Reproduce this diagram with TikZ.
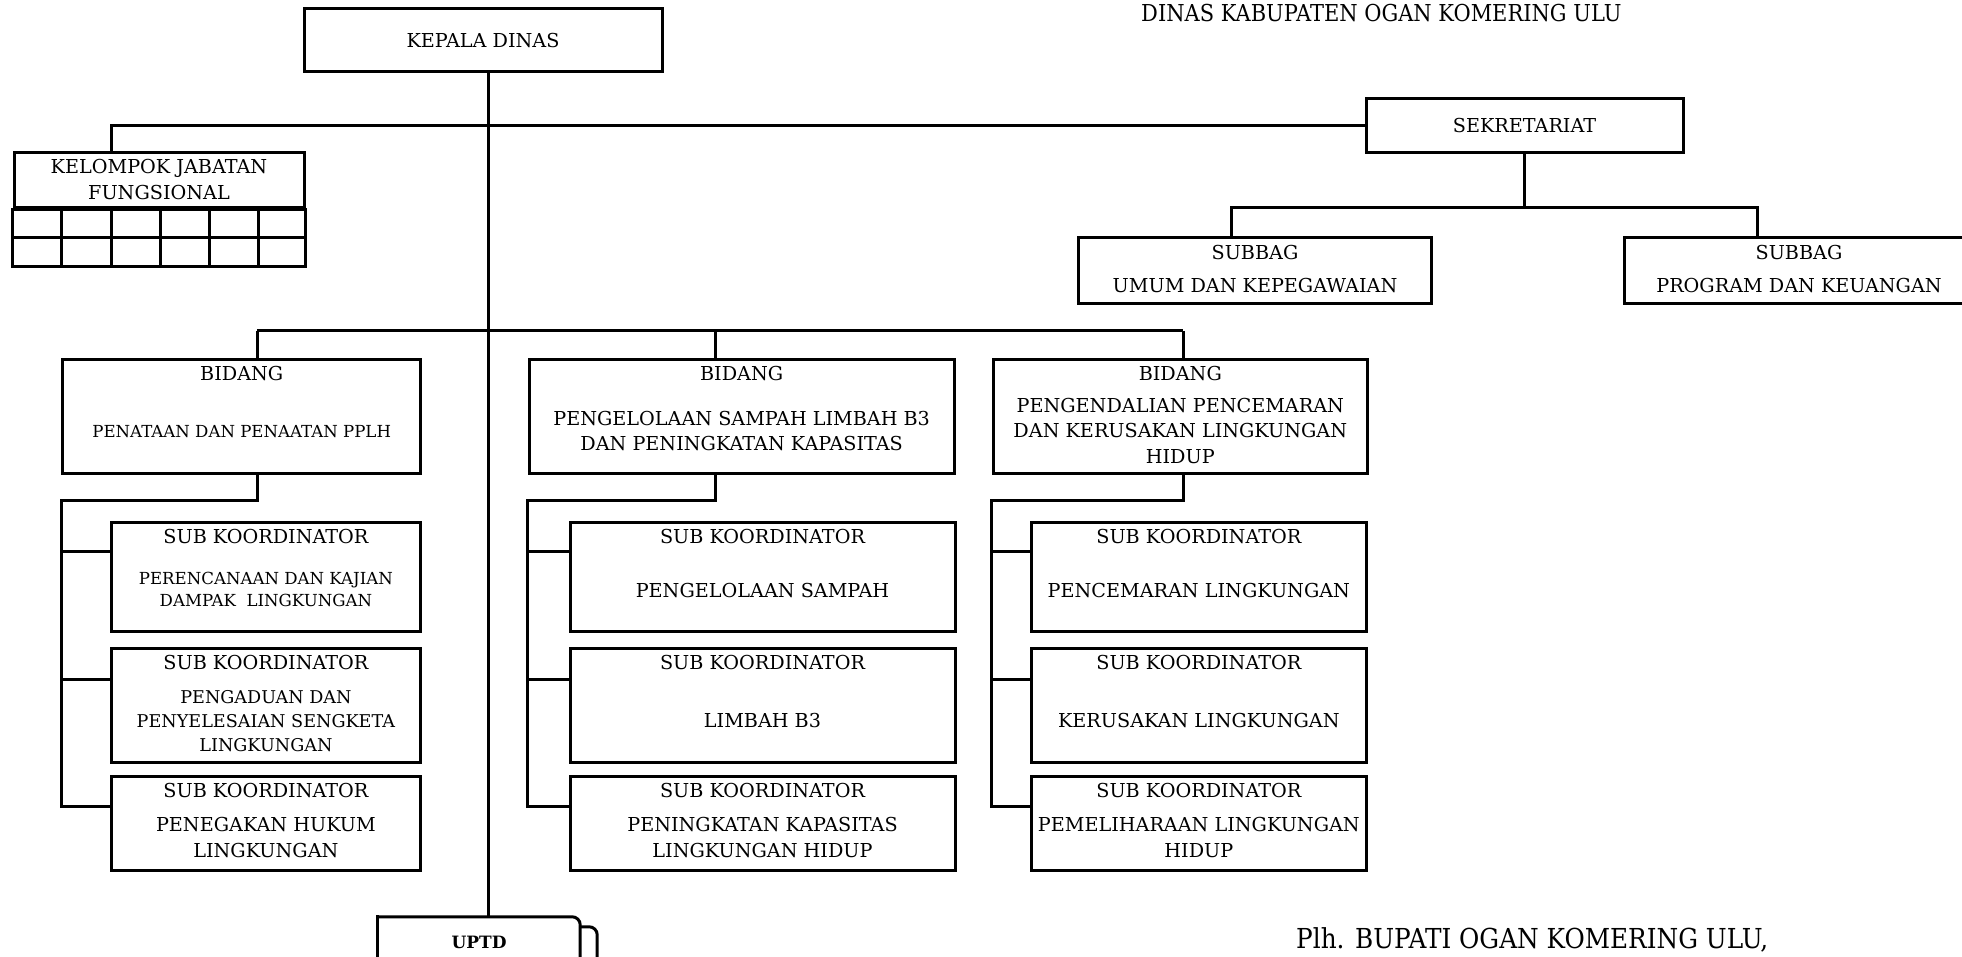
\documentclass[tikz,border=0pt]{standalone}
\usepackage{fontspec}
\setmainfont{DejaVu Serif}
\newfontfamily\headfont{DejaVu Serif}[FakeStretch=0.9]
\usetikzlibrary{calc}

\begin{document}
\begin{tikzpicture}[x=1pt,y=-1pt,
  box/.style={draw, line width=3pt, inner sep=0pt},
  link/.style={line width=3pt},
  txt/.style={inner sep=0pt, align=center, font=\fontsize{19.2}{#1}\selectfont},
  txt/.default=25,
  sml/.style={inner sep=0pt, align=center, font=\fontsize{16.6}{#1}\selectfont},
  sml/.default=22.6,
  mid/.style={inner sep=0pt, align=center, font=\fontsize{17.6}{#1}\selectfont},
  mid/.default=24,
  head/.style={inner sep=0pt, anchor=base west, font=\headfont\fontsize{#1}{26}\selectfont},
  head/.default=23.3]
\useasboundingbox (0,0) rectangle (1962,957);
\clip (0,0) rectangle (1962,957);

% ---------- top level ----------
\node[box, minimum width=358pt, minimum height=63pt] (kd) at (483,40.5) {};
\node[txt] (kdt) at (kd.center) {KEPALA DINAS};

\node[head] (hdr) at (1141,21.5) {DINAS KABUPATEN OGAN KOMERING ULU};

% functional group with its grid
\node[box, minimum width=290pt, minimum height=55pt] (kjf) at (159,180.5) {};
\node[txt=26] (kjft) at (159,179.5) {KELOMPOK JABATAN\\FUNGSIONAL};
\draw[link] (kjf.south west) rectangle (kjf.east |- 0,267);
\draw[link] (kjf.west |- 0,238) -- (kjf.east |- 0,238);
\foreach \x in {61,111,160,209,258} \draw[link] (\x,208) -- (\x,267);

% secretariat
\node[box, minimum width=317pt, minimum height=54pt] (sek) at (1524.5,126) {};
\node[txt] (sekt) at (sek.center) {SEKRETARIAT};

\node[box, minimum width=353pt, minimum height=66pt] (sbu) at (1255,271) {};
\node[txt] (sbut1) at (1255,252.8) {SUBBAG};
\node[txt] (sbut2) at (1255,285.3) {UMUM DAN KEPEGAWAIAN};

\node[box, minimum width=350pt, minimum height=66pt] (sbp) at (1799,271) {};
\node[txt] (sbpt1) at (1799,252.8) {SUBBAG};
\node[txt] (sbpt2) at (1799,285.3) {PROGRAM DAN KEUANGAN};

% ---------- divisions ----------
\node[box, minimum width=358pt, minimum height=114pt] (bid1) at (241.7,416.3) {};
\node[txt] (bid1a) at (241.7,374) {BIDANG};
\node[sml] (bid1b) at (241.7,431.7) {PENATAAN DAN PENAATAN PPLH};

\node[box, minimum width=424.7pt, minimum height=114pt] (bid2) at (741.65,416.3) {};
\node[txt] (bid2a) at (741.65,374) {BIDANG};
\node[txt=25] (bid2b) at (741.65,431.5) {PENGELOLAAN SAMPAH LIMBAH B3\\DAN PENINGKATAN KAPASITAS};

\node[box, minimum width=374pt, minimum height=114pt] (bid3) at (1180.3,416.3) {};
\node[txt] (bid3a) at (1180.3,374) {BIDANG};
\node[txt=25.5] (bid3b) at (1180.3,431) {PENGENDALIAN PENCEMARAN\\DAN KERUSAKAN LINGKUNGAN\\HIDUP};

% ---------- sub coordinators ----------
% column 1
\node[box, minimum width=309.7pt, minimum height=108.7pt] (s11) at (265.9,576.65) {};
\node[txt] (s11a) at (265.9,536.6) {SUB KOORDINATOR};
\node[sml] (s11b) at (265.9,589.3) {PERENCANAAN DAN KAJIAN\\DAMPAK\ \ LINGKUNGAN};

\node[box, minimum width=309.7pt, minimum height=113.3pt] (s12) at (265.9,705.35) {};
\node[txt] (s12a) at (265.9,663) {SUB KOORDINATOR};
\node[mid] (s12b) at (265.9,720.8) {PENGADUAN DAN\\PENYELESAIAN SENGKETA\\LINGKUNGAN};

\node[box, minimum width=309.7pt, minimum height=94pt] (s13) at (265.9,823.7) {};
\node[txt] (s13a) at (265.9,791) {SUB KOORDINATOR};
\node[txt=26] (s13b) at (265.9,838) {PENEGAKAN HUKUM\\LINGKUNGAN};

% column 2
\node[box, minimum width=385pt, minimum height=108.7pt] (s21) at (762.5,576.65) {};
\node[txt] (s21a) at (762.5,536.6) {SUB KOORDINATOR};
\node[txt] (s21b) at (762.5,590.6) {PENGELOLAAN SAMPAH};

\node[box, minimum width=385pt, minimum height=113.3pt] (s22) at (762.5,705.35) {};
\node[txt] (s22a) at (762.5,663) {SUB KOORDINATOR};
\node[txt] (s22b) at (762.5,720.6) {LIMBAH B3};

\node[box, minimum width=385pt, minimum height=94pt] (s23) at (762.5,823.7) {};
\node[txt] (s23a) at (762.5,791) {SUB KOORDINATOR};
\node[txt=26] (s23b) at (762.5,838) {PENINGKATAN KAPASITAS\\LINGKUNGAN HIDUP};

% column 3
\node[box, minimum width=335.7pt, minimum height=108.7pt] (s31) at (1198.85,576.65) {};
\node[txt] (s31a) at (1198.85,536.6) {SUB KOORDINATOR};
\node[txt] (s31b) at (1198.85,590.6) {PENCEMARAN LINGKUNGAN};

\node[box, minimum width=335.7pt, minimum height=113.3pt] (s32) at (1198.85,705.35) {};
\node[txt] (s32a) at (1198.85,663) {SUB KOORDINATOR};
\node[txt] (s32b) at (1198.85,720.6) {KERUSAKAN LINGKUNGAN};

\node[box, minimum width=335.7pt, minimum height=94pt] (s33) at (1198.85,823.7) {};
\node[txt] (s33a) at (1198.85,791) {SUB KOORDINATOR};
\node[txt=26] (s33b) at (1198.85,838) {PEMELIHARAAN LINGKUNGAN\\HIDUP};

% ---------- technical unit ----------
\node[inner sep=0pt, minimum width=202pt, minimum height=80pt] (uptd) at (479,957) {};
\draw[link, rounded corners=8pt] (uptd.north west) -- (uptd.north east) -- (uptd.south east);
\draw[link, line cap=rect] (uptd.north west) -- (uptd.south west);
\draw[link, rounded corners=8pt] ([yshift=-10pt]uptd.north east) -- ([xshift=17pt,yshift=-10pt]uptd.north east) -- ([xshift=17pt]uptd.south east);
\node[inner sep=0pt, font=\bfseries\fontsize{17}{20}\selectfont] (uptdt) at (479,942) {UPTD};

\node[head=27.5] (sig) at (1296,948) {Plh. BUPATI OGAN KOMERING ULU,};

% ---------- connectors ----------
\draw[link] ([xshift=5pt]kd.south) -- ([xshift=5pt]kd.south |- uptd.north);
\draw[link] ([xshift=-48pt]kjf.north) |- (sek.west);

\coordinate (sl) at (1231,208);
\coordinate (sr) at (1757,208);
\draw[link] (sek.south) -- (sek.south |- sl);
\draw[link] (sl |- sbu.north) -- (sl) -- (sr) -- (sr |- sbp.north);

\coordinate (b1) at (257.3,331);
\coordinate (b2) at (715,331);
\coordinate (b3) at (1183.3,331);
\draw[link] (b1) -- (b3);
\draw[link] (b1) -- (b1 |- bid1.north);
\draw[link] (b2) -- (b2 |- bid2.north);
\draw[link] (b3) -- (b3 |- bid3.north);

% branches under each division
\draw[link] (b1 |- bid1.south) -- (b1 |- 0,500.7) -- (bid1.west |- 0,500.7) -- (bid1.west |- 0,806.7) -- (s13.west |- 0,806.7);
\draw[link] (bid1.west |- 0,551) -- (s11.west |- 0,551);
\draw[link] (bid1.west |- 0,679.3) -- (s12.west |- 0,679.3);

\draw[link] (b2 |- bid2.south) -- (b2 |- 0,500.7) -- (bid2.west |- 0,500.7) -- (bid2.west |- 0,806.7) -- (s23.west |- 0,806.7);
\draw[link] (bid2.west |- 0,551) -- (s21.west |- 0,551);
\draw[link] (bid2.west |- 0,679.3) -- (s22.west |- 0,679.3);

\draw[link] (b3 |- bid3.south) -- (b3 |- 0,500.7) -- (bid3.west |- 0,500.7) -- (bid3.west |- 0,806.7) -- (s33.west |- 0,806.7);
\draw[link] (bid3.west |- 0,551) -- (s31.west |- 0,551);
\draw[link] (bid3.west |- 0,679.3) -- (s32.west |- 0,679.3);
\end{tikzpicture}
\end{document}
